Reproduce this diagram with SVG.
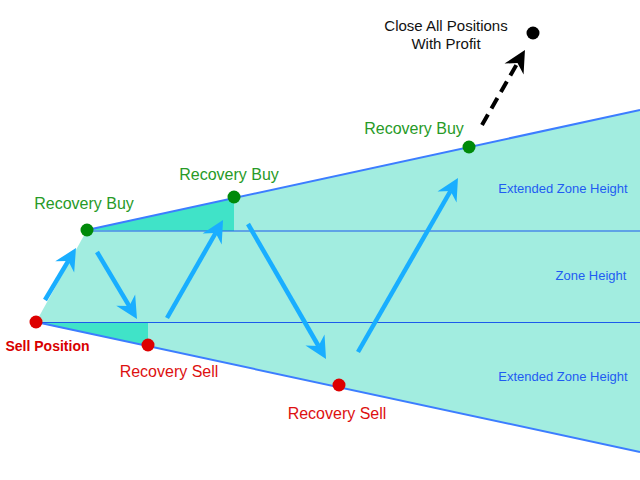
<svg xmlns="http://www.w3.org/2000/svg" width="640" height="480" viewBox="0 0 640 480">
<style>
.lbl{font-family:"Liberation Sans",Arial,sans-serif;font-size:16px;text-anchor:middle}
.buy{fill:#279A27}
.sell{fill:#DD1010}
.zone{font-family:"Liberation Sans",Arial,sans-serif;font-size:13px;fill:#1F5CF2;text-anchor:middle}
.blk{font-family:"Liberation Sans",Arial,sans-serif;font-size:15px;fill:#111;text-anchor:middle}
.arr{stroke:#19AEFF;stroke-width:4.5;fill:none;marker-end:url(#hb)}
.dash{stroke:#000;stroke-width:4;fill:none;stroke-dasharray:12 7;marker-end:url(#hk)}
.gdot{fill:#008A0A}
.rdot{fill:#DD0000}
</style>
<defs>
<marker id="hb" markerUnits="userSpaceOnUse" viewBox="-8 -12 24 24" markerWidth="24" markerHeight="24" refX="0" refY="0" orient="auto">
<path d="M15,0 L-7,-11 L0,0 L-7,11 Z" fill="#19AEFF"/>
</marker>
<marker id="hk" markerUnits="userSpaceOnUse" viewBox="-8 -12 24 24" markerWidth="24" markerHeight="24" refX="0" refY="0" orient="auto">
<path d="M15,0 L-7,-11 L0,0 L-7,11 Z" fill="#000"/>
</marker>
</defs>
<rect width="640" height="480" fill="#fff"/>
<g id="zone">
<polygon points="36,322 87,230 640,110 640,452" fill="#A2EDE0"/>
<polygon points="87,230 234,198 234,231" fill="#40E3C8"/>
<polygon points="36,322.5 148,322.5 148,346" fill="#40E3C8"/>
<line x1="87" y1="230" x2="640" y2="110" stroke="#3C7DFF" stroke-width="2"/>
<line x1="36" y1="322" x2="640" y2="452" stroke="#3C7DFF" stroke-width="2"/>
<line x1="87" y1="231" x2="640" y2="231" stroke="#1C5BEB" stroke-width="1.2"/>
<line x1="36" y1="322.5" x2="640" y2="322.5" stroke="#1C5BEB" stroke-width="1.2"/>
<text class="zone" x="563" y="193">Extended Zone Height</text>
<text class="zone" x="591" y="280">Zone Height</text>
<text class="zone" x="563" y="381">Extended Zone Height</text>
</g>
<g id="connectors">
<line class="arr" x1="45" y1="300" x2="68.3" y2="260.9"/>
<line class="arr" x1="97" y1="252" x2="129.3" y2="306.1"/>
<line class="arr" x1="167" y1="318" x2="215.6" y2="233"/>
<line class="arr" x1="248" y1="224" x2="318.5" y2="346"/>
<line class="arr" x1="358" y1="352" x2="450.5" y2="191"/>
<line class="dash" x1="482" y1="125" x2="517.5" y2="63"/>
</g>
<g id="sell-position">
<circle class="rdot" cx="36" cy="322" r="6.5"/>
<text x="47.5" y="351" font-family="'Liberation Sans',Arial,sans-serif" font-size="14" font-weight="bold" fill="#D80000" text-anchor="middle">Sell Position</text>
</g>
<g id="recovery-buy-1">
<circle class="gdot" cx="87" cy="230" r="6.5"/>
<text class="lbl buy" x="84" y="209">Recovery Buy</text>
</g>
<g id="recovery-buy-2">
<circle class="gdot" cx="234" cy="197" r="6.5"/>
<text class="lbl buy" x="229" y="180">Recovery Buy</text>
</g>
<g id="recovery-buy-3">
<circle class="gdot" cx="469" cy="147" r="6.5"/>
<text class="lbl buy" x="414" y="134">Recovery Buy</text>
</g>
<g id="recovery-sell-1">
<circle class="rdot" cx="148" cy="345" r="6.5"/>
<text class="lbl sell" x="169" y="377">Recovery Sell</text>
</g>
<g id="recovery-sell-2">
<circle class="rdot" cx="339" cy="385" r="6.5"/>
<text class="lbl sell" x="337" y="419">Recovery Sell</text>
</g>
<g id="close-all">
<circle cx="533" cy="33" r="6.5" fill="#000"/>
<text class="blk" x="446" y="31">Close All Positions</text>
<text class="blk" x="446" y="49">With Profit</text>
</g>
</svg>
